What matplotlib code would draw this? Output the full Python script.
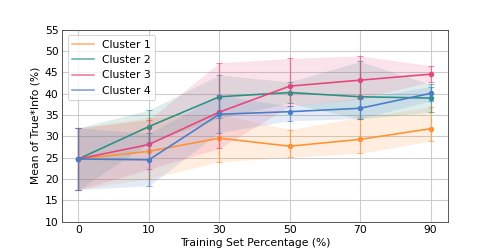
import numpy as np
import matplotlib
matplotlib.use("Agg")
import matplotlib.pyplot as plt

# training set percentages (categorical x axis)
train_pct = ["0", "10", "30", "50", "70", "90"]

clusters = ["Cluster 1", "Cluster 2", "Cluster 3", "Cluster 4"]
colors = ["#ff9233", "#2a9184", "#e8457d", "#4a7cc7"]

# mean of True*Info (%)
c1_mean = [24.7, 26.5, 29.6, 27.7, 29.3, 31.8]
c2_mean = [24.7, 32.3, 39.3, 40.3, 39.3, 39.0]
c3_mean = [24.7, 28.1, 35.7, 41.8, 43.2, 44.6]
c4_mean = [24.7, 24.5, 35.2, 35.8, 36.6, 40.1]

# lower / upper bounds of the spread
c1_low = [17.5, 20.1, 24.0, 25.1, 26.0, 28.9]
c1_high = [32.0, 34.4, 35.3, 31.6, 34.5, 36.9]
c2_low = [17.5, 28.4, 34.3, 37.8, 34.1, 35.7]
c2_high = [32.0, 36.2, 44.4, 42.8, 47.6, 42.2]
c3_low = [17.5, 22.3, 27.2, 37.1, 38.8, 42.8]
c3_high = [32.0, 33.9, 47.3, 48.3, 48.9, 46.6]
c4_low = [17.5, 18.4, 30.9, 33.7, 34.2, 38.3]
c4_high = [32.0, 30.7, 39.7, 37.1, 39.0, 41.7]

means = [c1_mean, c2_mean, c3_mean, c4_mean]
lows = [c1_low, c2_low, c3_low, c4_low]
highs = [c1_high, c2_high, c3_high, c4_high]

fig, ax = plt.subplots(figsize=(6.4, 3.2))

x = np.arange(len(train_pct))
for name, col, m, lo, hi in zip(clusters, colors, means, lows, highs):
    m = np.array(m)
    lo = np.array(lo)
    hi = np.array(hi)
    ax.fill_between(x, lo, hi, color=col, alpha=0.15, linewidth=0)
    ax.errorbar(x, m, yerr=[m - lo, hi - m], fmt='none', ecolor=col,
                alpha=0.6, capsize=3, elinewidth=1.2)
    ax.plot(x, m, color=col, marker='o', markersize=4, linewidth=1.5,
            label=name)

ax.set_xticks(x)
ax.set_xticklabels(train_pct)
ax.set_xlim(-0.23, 5.25)
ax.set_ylim(10, 55)
ax.set_yticks(np.arange(10, 56, 5))
ax.tick_params(axis='both', length=0, pad=3.5)
ax.grid(True, color="#cccccc", linewidth=1)
ax.set_axisbelow(True)
for s in ax.spines.values():
    s.set_color("#444444")

ax.set_xlabel("Training Set Percentage (%)", labelpad=2)
ax.set_ylabel("Mean of True*Info (%)")
leg = ax.legend(loc="upper left")
for h in leg.get_lines():
    h.set_alpha(0.7)
    h.set_marker('')

fig.savefig("out.png", dpi=498 / 6.4)
